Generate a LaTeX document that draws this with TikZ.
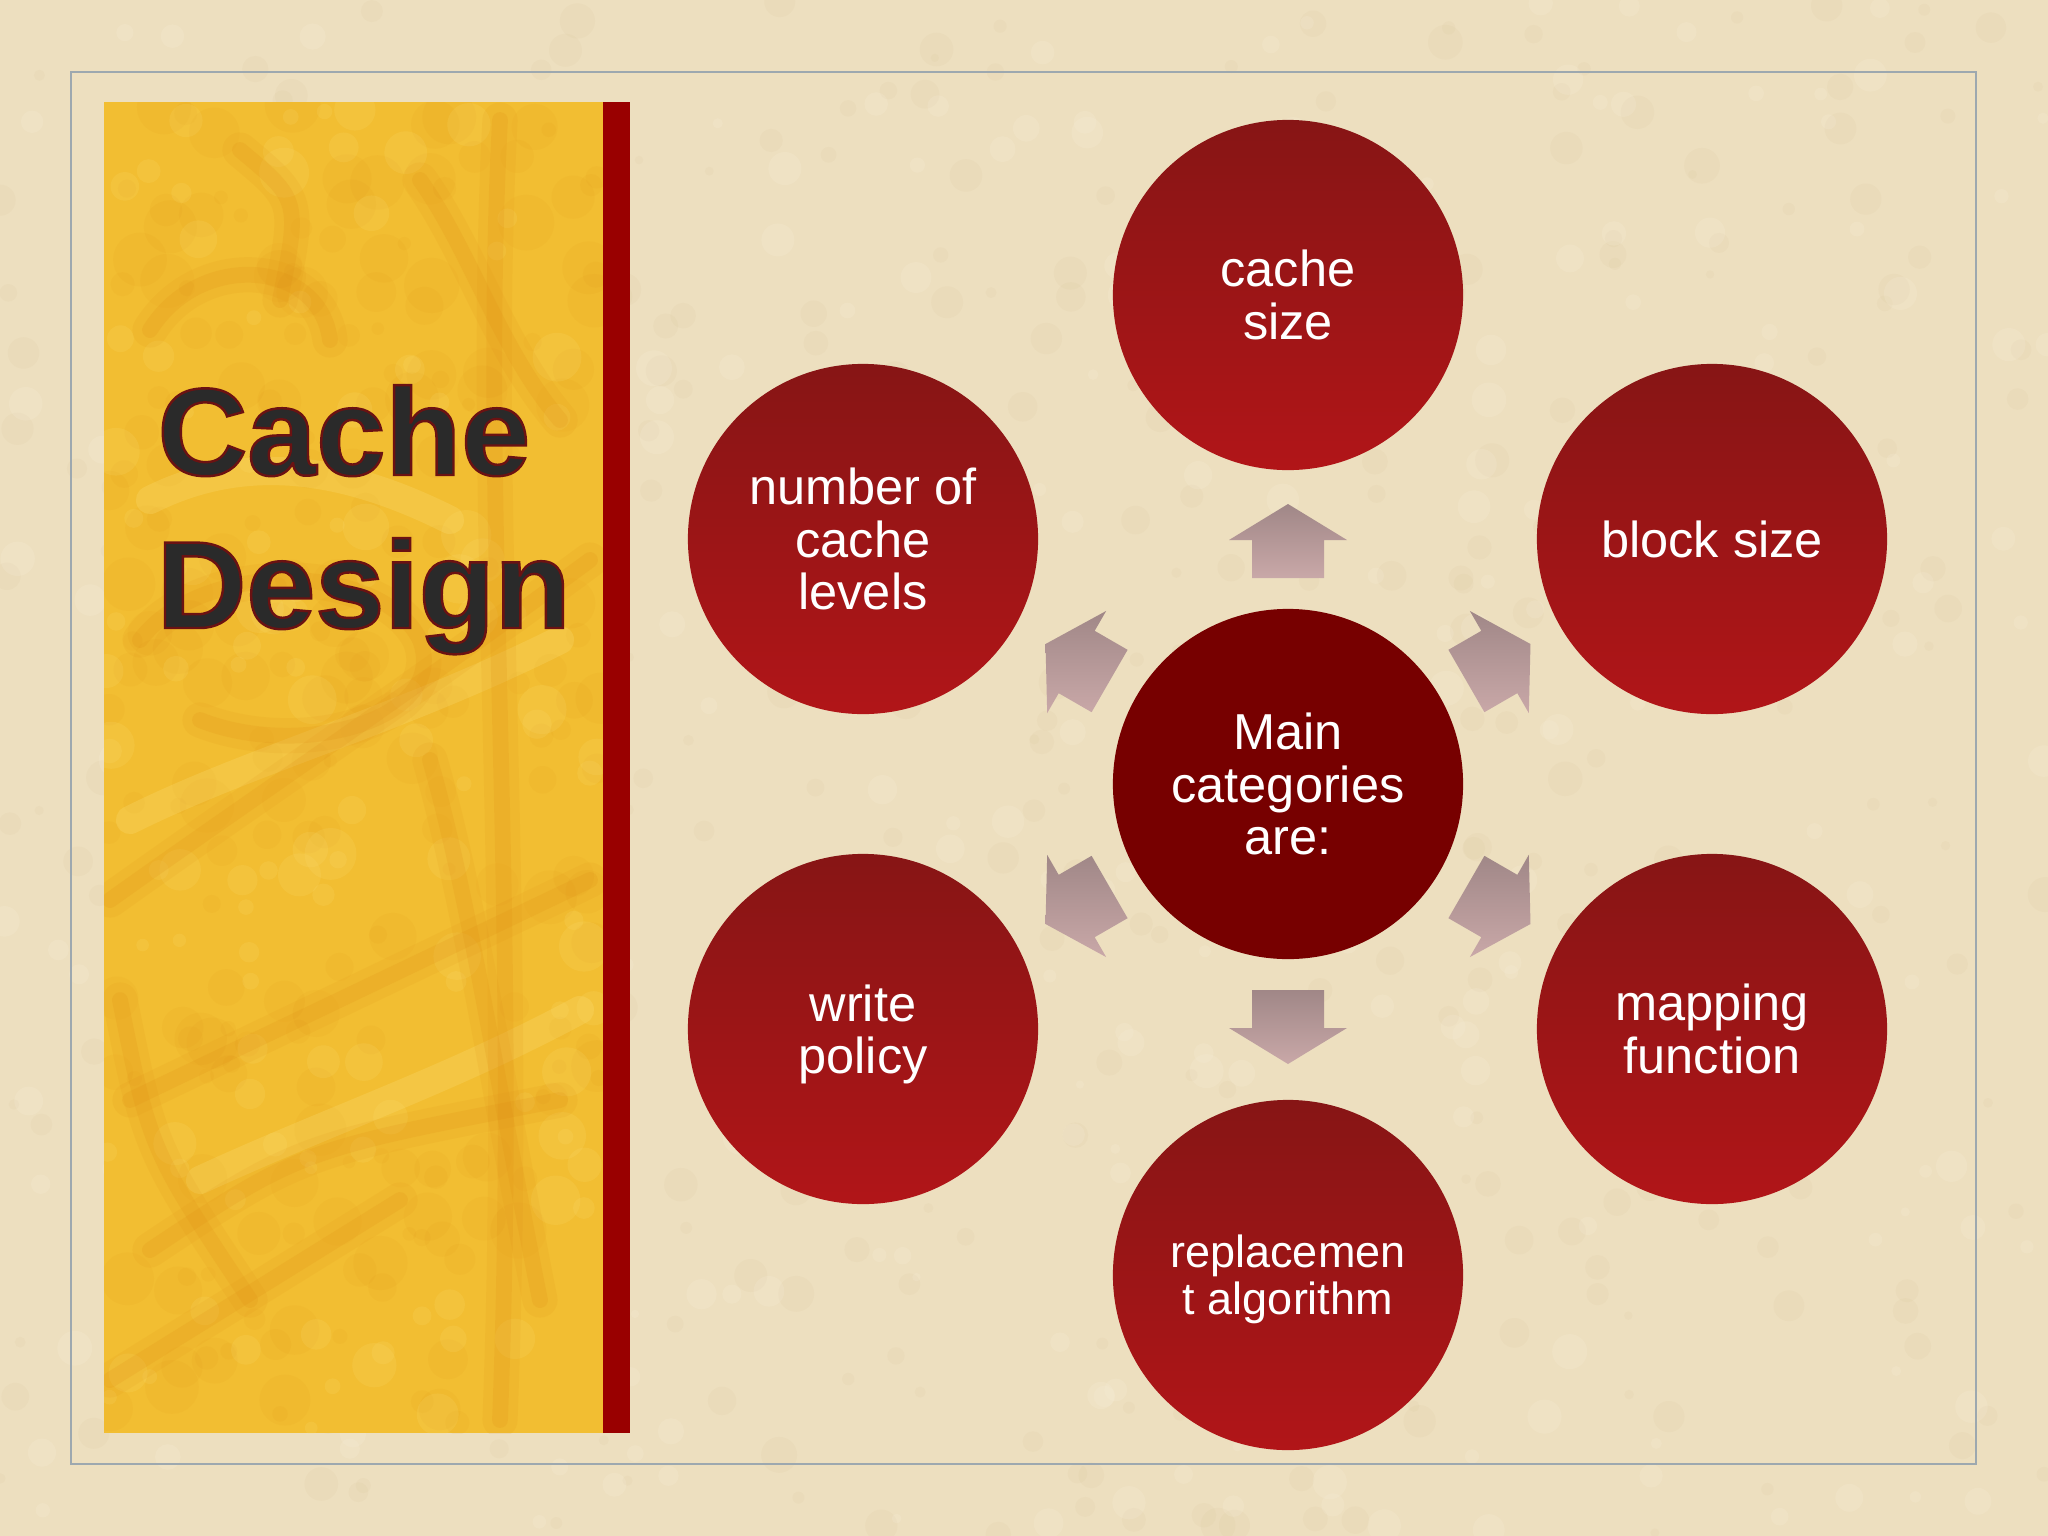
\documentclass[tikz,border=0pt]{standalone}
\usepackage{fontspec}
\setmainfont{Liberation Sans}
\usetikzlibrary{calc}
\definecolor{bgparch}{HTML}{EDDFBF}
\definecolor{parchdark}{HTML}{D3BE8E}
\definecolor{parchlight}{HTML}{FAF1DD}
\definecolor{framegray}{HTML}{9DA8AF}
\definecolor{panelyellow}{HTML}{F2BE32}
\definecolor{panelorange}{HTML}{DE8A12}
\definecolor{panellight}{HTML}{FBE07A}
\definecolor{stripered}{HTML}{990000}
\definecolor{titlegray}{HTML}{2A2A2A}
\definecolor{circtop}{HTML}{871515}
\definecolor{circbot}{HTML}{B11518}
\definecolor{centrered}{HTML}{770000}
\definecolor{arrtop}{HTML}{A08787}
\definecolor{arrbot}{HTML}{C9A8A8}
\tikzset{
  outercirc/.style={circle, minimum size=3.5cm, inner sep=0pt, top color=circtop, bottom color=circbot,
    text=white, align=center, font=\fontsize{14.37}{14.94}\selectfont},
  centrecirc/.style={circle, minimum size=3.5cm, inner sep=0pt, fill=centrered,
    text=white, align=center, font=\fontsize{14.37}{14.94}\selectfont},
  arrowshade/.style={top color=arrtop, bottom color=arrbot, draw=none},
  texwide/.style={draw=panelorange, opacity=0.10, line width=10pt, line cap=round},
  texstroke/.style={draw=panelorange, opacity=0.16, line width=4.5pt, line cap=round},
  texlight/.style={draw=panellight, opacity=0.25, line width=8pt, line cap=round},
  titletext/.style={anchor=base west, inner sep=0pt, text=titlegray, font=\fontsize{35.3}{43.5}\selectfont\bfseries}
}
\newcommand\blockarrow[1]{%
  \shade[arrowshade]
    ($(ctr.center)+(#1:206)+(#1+90:36)$) --
    ($(ctr.center)+(#1:244)+(#1+90:36)$) --
    ($(ctr.center)+(#1:244)+(#1+90:59)$) --
    ($(ctr.center)+(#1:280)$) --
    ($(ctr.center)+(#1:244)+(#1-90:59)$) --
    ($(ctr.center)+(#1:244)+(#1-90:36)$) --
    ($(ctr.center)+(#1:206)+(#1-90:36)$) -- cycle;}
\newcommand\outlineon{\special{pdf:literal direct 0.42 0.07 0.07 RG 0.7 w 2 Tr}}
\newcommand\outlineoff{\special{pdf:literal direct 0 Tr}}
\newcommand\texpaths[1]{%
  \draw[#1] (150,330) .. controls (200,250) and (320,260) .. (330,340);
  \draw[#1] (420,180) .. controls (470,250) and (500,350) .. (560,420);
  \draw[#1] (240,150) .. controls (300,200) .. (280,300);
  \draw[#1] (140,640) .. controls (200,560) and (380,560) .. (420,640) .. controls (450,720) and (300,760) .. (200,720);
  \draw[#1] (110,900) .. controls (250,800) and (400,700) .. (590,560);
  \draw[#1] (130,1100) -- (590,880);
  \draw[#1] (150,1250) .. controls (300,1150) .. (560,1100);
  \draw[#1] (110,1380) -- (400,1200);
  \draw[#1] (120,1000) .. controls (150,1150) .. (250,1300);
  \draw[#1] (500,120) .. controls (480,500) and (520,900) .. (500,1420);
  \draw[#1] (430,760) .. controls (470,900) and (500,1100) .. (540,1300);}
\begin{document}
\begin{tikzpicture}[x=0.01cm,y=-0.01cm]
\useasboundingbox (0,0) rectangle (2048,1536);
\fill[bgparch] (0,0) rectangle (2048,1536);
% parchment mottling (subtle)
\pgfmathsetseed{7}
\foreach \i in {1,...,420}{
  \pgfmathsetmacro\xx{rnd*2048}
  \pgfmathsetmacro\yy{rnd*1536}
  \pgfmathsetmacro\rr{4+rnd*14}
  \fill[parchdark, opacity=0.10] (\xx,\yy) circle[radius=\rr];
}
\foreach \i in {1,...,300}{
  \pgfmathsetmacro\xx{rnd*2048}
  \pgfmathsetmacro\yy{rnd*1536}
  \pgfmathsetmacro\rr{4+rnd*14}
  \fill[parchlight, opacity=0.18] (\xx,\yy) circle[radius=\rr];
}
\draw[framegray, line width=0.6pt] (71,72) rectangle (1976,1464);
% textured panel
\begin{scope}
  \clip (104,102) rectangle (603,1433);
  \fill[panelyellow] (104,102) rectangle (603,1433);
  \foreach \i in {1,...,220}{
    \pgfmathsetmacro\xx{104+rnd*500}
    \pgfmathsetmacro\yy{102+rnd*1331}
    \pgfmathsetmacro\rr{6+rnd*22}
    \fill[panelorange, opacity=0.07] (\xx,\yy) circle[radius=\rr];
  }
  \foreach \i in {1,...,120}{
    \pgfmathsetmacro\xx{104+rnd*500}
    \pgfmathsetmacro\yy{102+rnd*1331}
    \pgfmathsetmacro\rr{6+rnd*20}
    \fill[panellight, opacity=0.15] (\xx,\yy) circle[radius=\rr];
  }
  \draw[texlight] (150,500) .. controls (250,450) and (350,470) .. (450,520);
  \draw[texlight] (130,820) .. controls (250,760) and (400,720) .. (560,640);
  \draw[texlight] (200,1180) .. controls (330,1120) and (450,1080) .. (580,1010);
  \texpaths{texwide}
  \texpaths{texstroke}
\end{scope}
\fill[stripered] (603,102) rectangle (630,1433);
% title
\node[titletext] (t1) at (157,475) {\outlineon Cache\outlineoff};
\node[titletext] (t2) at (156,628) {\outlineon Design\outlineoff};
% circles
\node[centrecirc] (ctr) at (1288,784) {Main\\categories\\are:};
\node[outercirc] (csize) at (1288,295) {cache\\size};
\node[outercirc] (bsize) at (1712,539) {block size};
\node[outercirc] (mapf) at (1712,1029) {mapping\\function};
\node[outercirc, font=\fontsize{12.8}{13.4}\selectfont, text depth=0pt] (repl) at (1288,1275) {replacemen\\t algorithm};
\node[outercirc] (wpol) at (863,1029) {\raisebox{0pt}[\height][0pt]{write}\\\raisebox{0pt}[\height][0pt]{policy}};
\node[outercirc] (ncl) at (863,539) {number of\\cache\\levels};
% block arrows
\blockarrow{-90}
\blockarrow{-30}
\blockarrow{30}
\blockarrow{90}
\blockarrow{150}
\blockarrow{210}
\end{tikzpicture}
\end{document}
